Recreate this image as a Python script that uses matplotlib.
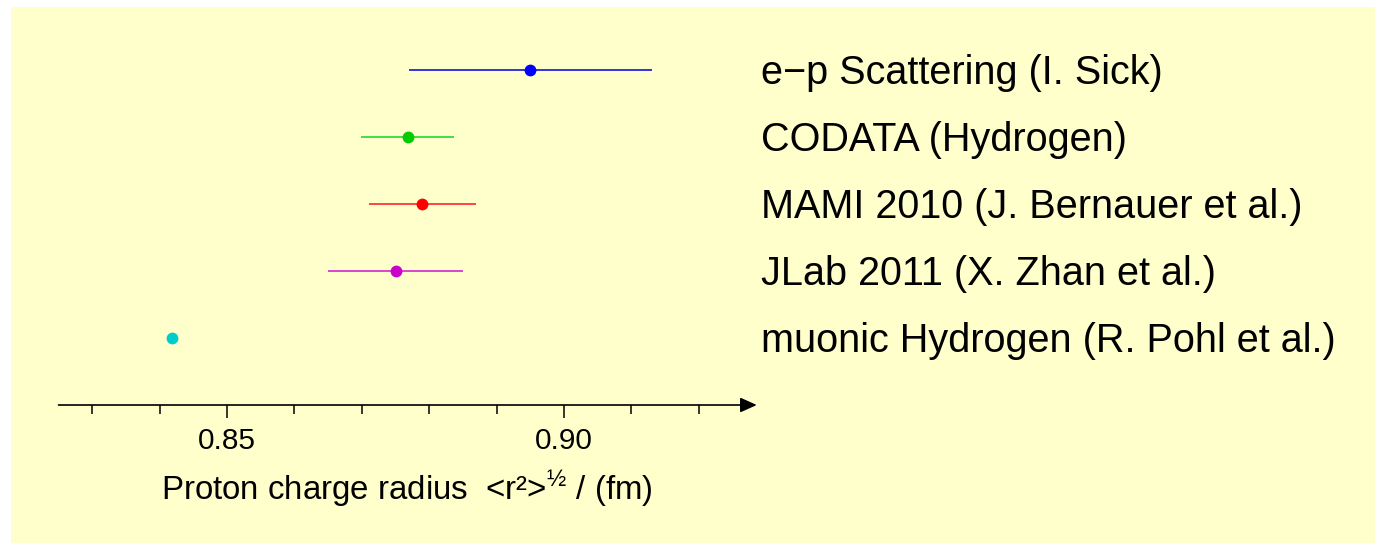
import matplotlib
matplotlib.use("Agg")
import matplotlib.pyplot as plt
import numpy as np
from matplotlib.patches import Rectangle
from matplotlib.ticker import FixedLocator

plt.rcParams["font.family"] = ["Liberation Sans", "DejaVu Sans"]
plt.rcParams["mathtext.fontset"] = "custom"
plt.rcParams["mathtext.rm"] = "Liberation Sans"

labels = [
    "e\u2212p Scattering (I. Sick)",
    "CODATA (Hydrogen)",
    "MAMI 2010 (J. Bernauer et al.)",
    "JLab 2011 (X. Zhan et al.)",
    "muonic Hydrogen (R. Pohl et al.)",
]
radius = [0.895, 0.8768, 0.879, 0.875, 0.84184]
error = [0.018, 0.0069, 0.008, 0.010, 0.00067]
colors = ["#0000ff", "#00cc00", "#ff0000", "#cc00cc", "#00cccc"]
bar_colors = ["#3333dd", "#44dd44", "#ff4444", "#dd44cc", "#00cccc"]
major_ticks = [0.85, 0.90]
minor_ticks = [0.83, 0.84, 0.86, 0.87, 0.88, 0.89, 0.91, 0.92]
axis_start, axis_end = 0.825, 0.9286

W, H = 1375, 543
fig = plt.figure(figsize=(W / 100, H / 100), dpi=100, facecolor="white")
fig.patches.append(Rectangle((11 / W, 0), 1 - 11 / W, 1 - 7 / H,
                             transform=fig.transFigure, facecolor="#ffffcc",
                             edgecolor="none", zorder=-1))

ax = fig.add_axes([0, 0, 1, 1])
ax.patch.set_visible(False)
# pixel -> data mapping: 0.85 at x=227, 0.05 per 337 px; rows 67 px apart
px = 0.05 / 337
ax.set_xlim(0.85 - 227 * px, 0.85 + (W - 227) * px)
ax.set_ylim((H - 70) / 67, -70 / 67)

rows = np.arange(len(labels))
for i in rows:
    ax.plot([radius[i] - error[i], radius[i] + error[i]], [i, i],
            color=bar_colors[i], lw=1.4, solid_capstyle="butt", zorder=2)
    ax.plot(radius[i], i, "o", color=colors[i], ms=8.5, mec="none", zorder=3)
    ax.text(0.85 + (761 - 227) * px, i + 14 / 67, labels[i], ha="left",
            va="baseline", fontsize=28.5)

for side in ["top", "left", "right", "bottom"]:
    ax.spines[side].set_visible(False)
ax.spines["bottom"].set_position(("data", 5))
ax.annotate("", xy=(axis_end, 5), xytext=(axis_start, 5),
            arrowprops=dict(arrowstyle="-|>,head_length=1.0,head_width=0.45",
                            mutation_scale=10, color="black", lw=1.2,
                            shrinkA=0, shrinkB=0))
ax.set_yticks([])
ax.xaxis.set_major_locator(FixedLocator(major_ticks))
ax.xaxis.set_minor_locator(FixedLocator(minor_ticks))
ax.set_xticklabels(["0.85", "0.90"])
ax.tick_params(axis="x", which="major", direction="out", length=9.5, width=1.1,
               labelsize=21.5, pad=6.5)
ax.tick_params(axis="x", which="minor", direction="out", length=6.5, width=1.1)

ax.text(0.85 + (407 - 227) * px, (501 - 70) / 67,
        "Proton charge radius  <r\u00b2>$^{\u00bd}$ / (fm)",
        ha="center", va="baseline", fontsize=23.8)

fig.savefig("out.png", dpi=100, facecolor=fig.get_facecolor())
